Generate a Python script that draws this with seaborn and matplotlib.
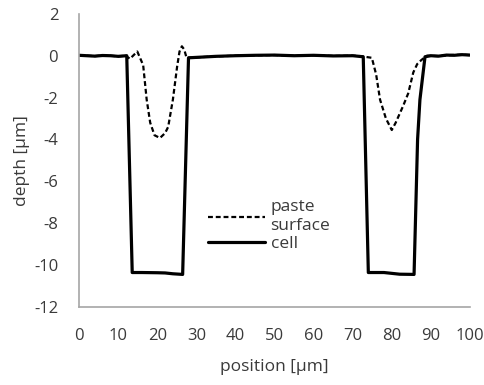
import numpy as np
import pandas as pd
import seaborn as sns
import matplotlib.pyplot as plt

# depth profiles (position in um, depth in um)
cell_x = [0, 2, 4, 6, 8, 10, 12.2, 13.6, 16, 20, 22, 24, 26.5, 28.0, 30, 35, 40,
          45, 50, 55, 60, 65, 70, 72.7, 74.0, 78, 80, 82, 85.7, 86.6, 87.2, 88.5,
          90, 92, 94, 96, 98, 100]
cell_y = [0.02, 0.0, -0.02, 0.01, 0.0, -0.03, 0.0, -10.36, -10.36, -10.37, -10.38,
          -10.42, -10.45, -0.1, -0.08, -0.03, 0.0, 0.02, 0.03, 0.0, 0.02, -0.01,
          0.0, -0.05, -10.36, -10.36, -10.4, -10.44, -10.45, -4.0, -2.1, -0.05,
          0.0, -0.02, 0.03, 0.02, 0.05, 0.03]

paste_x = [0, 2, 4, 6, 8, 10, 12, 13.0, 14.9, 16.4, 17.3, 18.2, 19.3, 20.7, 22.0,
           22.8, 24.0, 25.1, 25.7, 26.3, 26.9, 27.5, 30, 35, 40, 45, 50, 55, 60,
           65, 70, 72, 74.9, 76, 77.0, 78.5, 80.0, 81, 82.9, 84.2, 85.5, 86.5,
           87.6, 89, 92, 95, 98, 100]
paste_y = [0.02, 0.0, -0.02, 0.01, 0.0, -0.03, 0.0, -0.15, 0.2, -0.45, -2.1, -3.2,
           -3.8, -3.93, -3.7, -3.4, -2.1, -0.5, 0.2, 0.45, 0.3, -0.1, -0.08, -0.03,
           0.0, 0.02, 0.03, 0.0, 0.02, -0.01, 0.0, -0.02, -0.1, -0.9, -2.1, -3.0,
           -3.55, -3.2, -2.4, -1.8, -0.8, -0.4, -0.2, 0.0, -0.02, 0.03, 0.05, 0.03]

x_ticks = list(range(0, 101, 10))
y_ticks = list(range(-12, 3, 2))

sns.set_style("white")
plt.rcParams['font.family'] = ['Open Sans', 'DejaVu Sans']
plt.rcParams['axes.unicode_minus'] = False

fig = plt.figure(figsize=(4.85, 3.85), dpi=100)
ax = fig.add_axes([0.163, 0.203, 0.806, 0.761])

sns.lineplot(x=paste_x, y=paste_y, ax=ax, color="black", linestyle=(0, (2.2, 1.3)),
             linewidth=1.6, label="paste\nsurface", sort=False)
sns.lineplot(x=cell_x, y=cell_y, ax=ax, color="black", linewidth=2.3,
             label="cell", sort=False)

ax.set_xlim(0, 100)
ax.set_ylim(-12, 2)
ax.set_xticks(x_ticks)
ax.set_yticks(y_ticks)
ax.tick_params(length=0, labelsize=12, colors="#3a3a3a")
ax.tick_params(axis="x", pad=15)
ax.tick_params(axis="y", pad=15)
ax.set_xlabel("position [µm]", fontsize=12.5, color="#3a3a3a", labelpad=11)
ax.set_ylabel("depth [µm]", fontsize=12.5, color="#3a3a3a", labelpad=3)

for side in ["top", "right"]:
    ax.spines[side].set_visible(False)
for side in ["left", "bottom"]:
    ax.spines[side].set_color("#a6a6a6")
    ax.spines[side].set_linewidth(1.2)

ax.legend(frameon=False, loc="upper left", bbox_to_anchor=(0.29, 0.42),
          fontsize=12.5, handlelength=3.3, handletextpad=0.3, labelspacing=0.1,
          labelcolor="#3a3a3a")

fig.savefig("out.png", dpi=100)
